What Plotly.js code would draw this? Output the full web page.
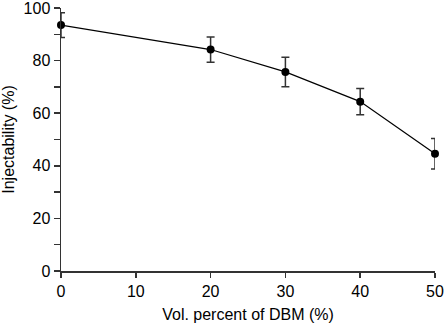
<!DOCTYPE html>
<html>
<head>
<meta charset="utf-8">
<script src="https://cdn.plot.ly/plotly-3.0.1.min.js"></script>
<style>html,body{margin:0;padding:0;background:#fff;}#chart{width:445px;height:323px;}</style>
</head>
<body>
<div id="chart"></div>
<script>
const dbmPercent = [0, 20, 30, 40, 50];
const injectability = [93.5, 84.2, 75.7, 64.4, 44.6];
const injectabilityErr = [4.7, 4.8, 5.6, 5.0, 5.8];
const xTicks = [0, 10, 20, 30, 40, 50];
const yTicks = [0, 20, 40, 60, 80, 100];

const font = {family: 'Liberation Sans, Arial, sans-serif', size: 16, color: '#000'};
const axisColor = '#333';

Plotly.newPlot('chart', [{
  x: dbmPercent,
  y: injectability,
  type: 'scatter',
  mode: 'lines+markers',
  line: {color: '#000', width: 1.2},
  marker: {color: '#000', size: 8},
  error_y: {type: 'data', array: injectabilityErr, visible: true, color: '#333', thickness: 1.5, width: 4},
  cliponaxis: false,
  showlegend: false
}], {
  width: 445, height: 323,
  margin: {l: 61, r: 10, t: 8, b: 52},
  paper_bgcolor: '#fff', plot_bgcolor: '#fff',
  font: font,
  xaxis: {
    range: [0, 50], tickvals: xTicks, ticktext: xTicks.map(String),
    showgrid: false, zeroline: false, showline: true, linecolor: axisColor, linewidth: 1.5,
    ticks: 'outside', ticklen: 5, tickwidth: 1.5, tickcolor: axisColor,
    ticklabeloverflow: 'allow',
    title: {text: 'Vol. percent of DBM (%)', font: font, standoff: 13},
    automargin: false
  },
  yaxis: {
    range: [0, 100], tickvals: yTicks, ticktext: yTicks.map(String),
    showgrid: false, zeroline: false, showline: true, linecolor: axisColor, linewidth: 1.5,
    ticks: 'outside', ticklen: 6, tickwidth: 1.5, tickcolor: axisColor,
    ticklabeloverflow: 'allow',
    minor: {tickvals: [10, 30, 50, 70, 90], ticks: 'outside', ticklen: 6, tickwidth: 1.5, tickcolor: axisColor},
    title: {text: 'Injectability (%)', font: font, standoff: 13},
    automargin: false
  }
}, {displayModeBar: false, staticPlot: true});
</script>
</body>
</html>
